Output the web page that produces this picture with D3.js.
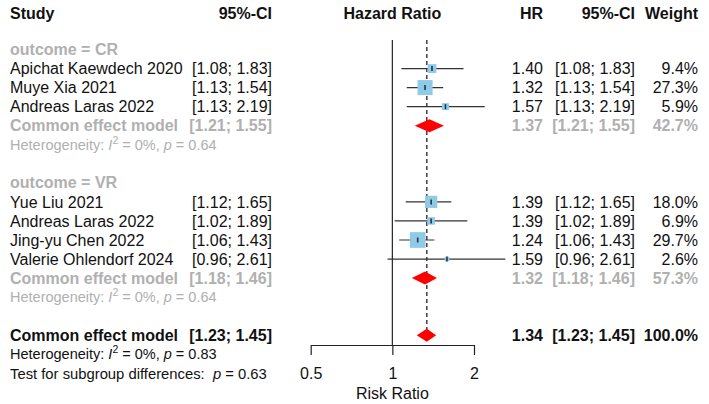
<!DOCTYPE html>
<html>
<head>
<meta charset="utf-8">
<script src="https://cdn.jsdelivr.net/npm/d3@7"></script>
<style>
  body { margin: 0; background: #fff; }
  svg { display: block; font-family: "Liberation Sans", Arial, sans-serif; }
</style>
</head>
<body>
<svg id="chart" width="709" height="404"></svg>
<script>
// ---------- data ----------
const studies   = ["Apichat Kaewdech 2020", "Muye Xia 2021", "Andreas Laras 2022",
                   "Yue Liu 2021", "Andreas Laras 2022", "Jing-yu Chen 2022", "Valerie Ohlendorf 2024"];
const groups    = ["CR", "CR", "CR", "VR", "VR", "VR", "VR"];
const hr        = [1.40, 1.32, 1.57, 1.39, 1.39, 1.24, 1.59];
const lower     = [1.08, 1.13, 1.13, 1.12, 1.02, 1.06, 0.96];
const upper     = [1.83, 1.54, 2.19, 1.65, 1.89, 1.43, 2.61];
const weights   = [9.4, 27.3, 5.9, 18.0, 6.9, 29.7, 2.6];

const subgroups     = ["CR", "VR"];
const subHR         = [1.37, 1.32];
const subLower      = [1.21, 1.18];
const subUpper      = [1.55, 1.46];
const subWeight     = [42.7, 57.3];
const subHetP       = ["0.64", "0.64"];

const overallHR = 1.34, overallLower = 1.23, overallUpper = 1.45, overallWeight = 100.0;
const overallHetP = "0.83";
const subgroupDiffP = "0.63";

const axisTicks = [0.5, 1, 2];
const axisTickLabels = ["0.5", "1", "2"];

// ---------- layout ----------
const svg = d3.select("#chart");
const GRAY = "#b0b0b0";
const fmt2 = d3.format(".2f");
const fmtW = d3.format(".1f");
const ciText = (l, u) => `[${fmt2(l)}; ${fmt2(u)}]`;

const x = d3.scaleLog().domain([0.5, 2]).range([310.7, 474]);
const y = d3.scaleLinear().domain([0, 17]).range([49.5, 49.5 + 17 * 19.05]);
const sq = d3.scaleSqrt().domain([0, 29.7]).range([0, 15.7]);

const colStudy = 10, colCI1 = 272, colHR = 543, colCI2 = 635, colW = 698;

// build rows
const rows = [];
let r = 0;
subgroups.forEach((g, gi) => {
  rows.push({type: "sublabel", row: r++, label: "outcome = " + g});
  studies.forEach((s, i) => {
    if (groups[i] === g) rows.push({type: "study", row: r++, label: s, hr: hr[i], lo: lower[i], hi: upper[i], w: weights[i]});
  });
  rows.push({type: "subsum", row: r++, label: "Common effect model", hr: subHR[gi], lo: subLower[gi], hi: subUpper[gi], w: subWeight[gi]});
  rows.push({type: "subhet", row: r++, p: subHetP[gi]});
  r++; // blank
});
rows.push({type: "overall", row: r++, label: "Common effect model", hr: overallHR, lo: overallLower, hi: overallUpper, w: overallWeight});
rows.push({type: "overallhet", row: r++, p: overallHetP});
rows.push({type: "test", row: r++, p: subgroupDiffP});

// ---------- header ----------
const hdrY = 13;
const header = svg.append("g").attr("font-weight", "bold").attr("font-size", 16).attr("fill", "#111");
header.append("text").attr("x", colStudy).attr("y", hdrY).attr("dy", "0.35em").text("Study");
header.append("text").attr("x", colCI1).attr("y", hdrY).attr("dy", "0.35em").attr("text-anchor", "end").text("95%-CI");
header.append("text").attr("x", x(1)).attr("y", hdrY).attr("dy", "0.35em").attr("text-anchor", "middle").text("Hazard Ratio");
header.append("text").attr("x", colHR).attr("y", hdrY).attr("dy", "0.35em").attr("text-anchor", "end").text("HR");
header.append("text").attr("x", colCI2).attr("y", hdrY).attr("dy", "0.35em").attr("text-anchor", "end").text("95%-CI");
header.append("text").attr("x", colW).attr("y", hdrY).attr("dy", "0.35em").attr("text-anchor", "end").text("Weight");

// ---------- reference lines ----------
const topY = 40;
const overallRow = rows.find(d => d.type === "overall").row;
svg.append("line").attr("x1", x(1)).attr("x2", x(1)).attr("y1", topY).attr("y2", 345)
  .attr("stroke", "#222").attr("stroke-width", 1.2);
svg.append("line").attr("x1", x(overallHR)).attr("x2", x(overallHR)).attr("y1", topY).attr("y2", y(overallRow))
  .attr("stroke", "#222").attr("stroke-width", 1.3).attr("stroke-dasharray", "4,3");

// ---------- axis ----------
const axisG = svg.append("g").attr("transform", "translate(0,345)")
  .call(d3.axisBottom(x).tickValues(axisTicks).tickFormat((d, i) => axisTickLabels[i]).tickSize(10).tickSizeOuter(0).tickPadding(13));
axisG.select(".domain").attr("stroke", "#222").attr("stroke-width", 1.2);
axisG.selectAll(".tick line").attr("stroke", "#222").attr("stroke-width", 1.2);
axisG.selectAll(".tick text").attr("font-size", 16).attr("fill", "#111").attr("font-family", "Liberation Sans, Arial, sans-serif");
svg.append("text").attr("x", x(1)).attr("y", 393).attr("dy", "0.35em").attr("text-anchor", "middle")
  .attr("font-size", 16).attr("fill", "#111").text("Risk Ratio");

// ---------- rows ----------
const g = svg.append("g");
rows.forEach(d => {
  const yy = y(d.row);
  if (d.type === "sublabel") {
    g.append("text").attr("x", colStudy).attr("y", yy).attr("dy", "0.35em")
      .attr("font-size", 16).attr("font-weight", "bold").attr("fill", GRAY).text(d.label);
  } else if (d.type === "study") {
    g.append("line").attr("x1", x(d.lo)).attr("x2", x(d.hi)).attr("y1", yy).attr("y2", yy)
      .attr("stroke", "#333").attr("stroke-width", 1.2);
    const s = sq(d.w);
    g.append("rect").attr("x", x(d.hr) - s / 2).attr("y", yy - s / 2).attr("width", s).attr("height", s)
      .attr("fill", "#8fcbe6");
    g.append("line").attr("x1", x(d.hr)).attr("x2", x(d.hr)).attr("y1", yy - 2.5).attr("y2", yy + 2.5)
      .attr("stroke", "#1f3552").attr("stroke-width", 1.6);
    g.append("text").attr("x", colStudy).attr("y", yy).attr("dy", "0.35em").attr("font-size", 16).attr("fill", "#111").text(d.label);
    g.append("text").attr("x", colCI1).attr("y", yy).attr("dy", "0.35em").attr("text-anchor", "end").attr("font-size", 16).attr("fill", "#111").text(ciText(d.lo, d.hi));
    g.append("text").attr("x", colHR).attr("y", yy).attr("dy", "0.35em").attr("text-anchor", "end").attr("font-size", 16).attr("fill", "#111").text(fmt2(d.hr));
    g.append("text").attr("x", colCI2).attr("y", yy).attr("dy", "0.35em").attr("text-anchor", "end").attr("font-size", 16).attr("fill", "#111").text(ciText(d.lo, d.hi));
    g.append("text").attr("x", colW).attr("y", yy).attr("dy", "0.35em").attr("text-anchor", "end").attr("font-size", 16).attr("fill", "#111").text(fmtW(d.w) + "%");
  } else if (d.type === "subsum" || d.type === "overall") {
    const col = d.type === "subsum" ? GRAY : "#111";
    const hh = 6.5;
    const pts = [[x(d.lo), yy], [x(d.hr), yy - hh], [x(d.hi), yy], [x(d.hr), yy + hh]];
    g.append("path").attr("d", d3.line()(pts) + "Z").attr("fill", "#ff0000");
    const tg = g.append("g").attr("font-size", 16).attr("font-weight", "bold").attr("fill", col);
    tg.append("text").attr("x", colStudy).attr("y", yy).attr("dy", "0.35em").text(d.label);
    tg.append("text").attr("x", colCI1).attr("y", yy).attr("dy", "0.35em").attr("text-anchor", "end").text(ciText(d.lo, d.hi));
    tg.append("text").attr("x", colHR).attr("y", yy).attr("dy", "0.35em").attr("text-anchor", "end").text(fmt2(d.hr));
    tg.append("text").attr("x", colCI2).attr("y", yy).attr("dy", "0.35em").attr("text-anchor", "end").text(ciText(d.lo, d.hi));
    tg.append("text").attr("x", colW).attr("y", yy).attr("dy", "0.35em").attr("text-anchor", "end").text(fmtW(d.w) + "%");
  } else if (d.type === "subhet" || d.type === "overallhet") {
    const col = d.type === "subhet" ? GRAY : "#111";
    const t = g.append("text").attr("x", colStudy).attr("y", yy + 5).attr("font-size", 14.5).attr("fill", col);
    t.append("tspan").text("Heterogeneity: ");
    t.append("tspan").attr("font-style", "italic").text("I");
    t.append("tspan").attr("font-size", 10.5).attr("dy", -6).text("2");
    t.append("tspan").attr("dy", 6).text(" = 0%, ");
    t.append("tspan").attr("font-style", "italic").text("p");
    t.append("tspan").text(" = " + d.p);
  } else if (d.type === "test") {
    const t = g.append("text").attr("x", colStudy).attr("y", yy).attr("dy", "0.35em").attr("font-size", 14.8).attr("fill", "#111")
      .style("white-space", "pre");
    t.append("tspan").text("Test for subgroup differences:  ");
    t.append("tspan").attr("font-style", "italic").text("p");
    t.append("tspan").text(" = " + d.p);
  }
});
</script>
</body>
</html>
